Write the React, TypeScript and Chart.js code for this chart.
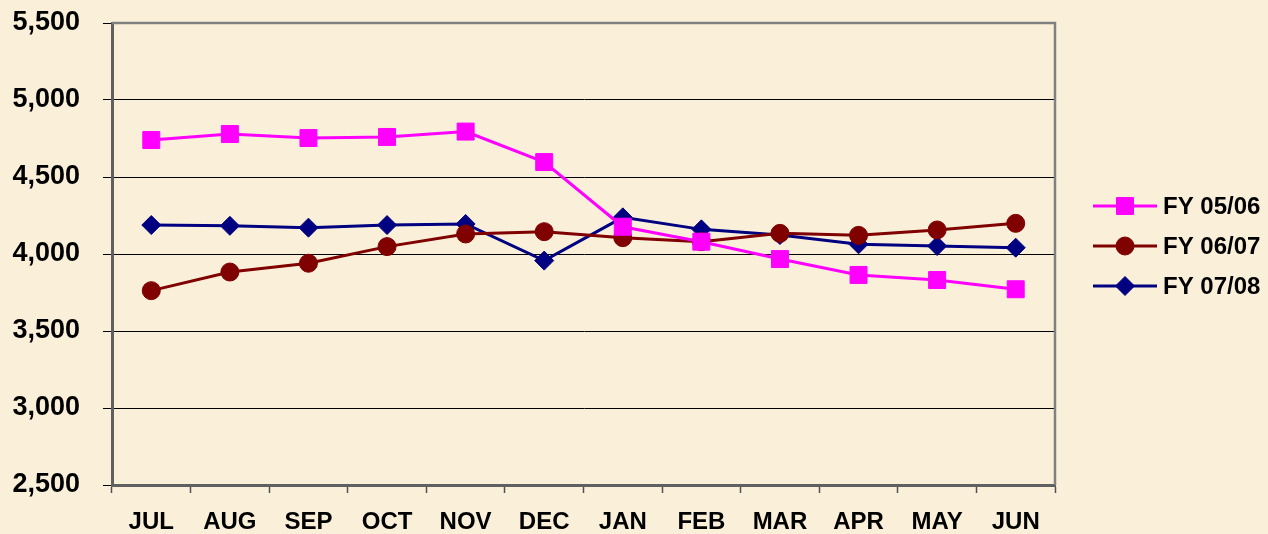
import React, { useEffect, useRef } from "react";
import { Chart, registerables } from "chart.js";
import { drawPoint } from "chart.js/helpers";

Chart.register(...registerables);

const months = ["JUL", "AUG", "SEP", "OCT", "NOV", "DEC", "JAN", "FEB", "MAR", "APR", "MAY", "JUN"];
const fy0506 = [4740, 4779, 4753, 4760, 4795, 4597, 4177, 4080, 3967, 3864, 3831, 3771];
const fy0607 = [3762, 3883, 3940, 4048, 4130, 4145, 4106, 4080, 4134, 4121, 4156, 4199];
const fy0708 = [4188, 4183, 4171, 4188, 4195, 3957, 4238, 4160, 4123, 4063, 4052, 4041];
const seriesNames = ["FY 05/06", "FY 06/07", "FY 07/08"];
const yMin = 2500;
const yMax = 5500;
const yStep = 500;

const FONT = "'Liberation Sans', Arial, sans-serif";
const BG = "#FAF0DA";

const bgPlugin = {
  id: "bgPlugin",
  beforeDraw(chart: any) {
    const { ctx, width, height } = chart;
    ctx.save();
    ctx.fillStyle = BG;
    ctx.fillRect(0, 0, width, height);
    ctx.restore();
  },
  beforeDatasetsDraw(chart: any) {
    const { ctx, chartArea } = chart;
    ctx.save();
    ctx.strokeStyle = "#808080";
    ctx.lineWidth = 2.5;
    ctx.beginPath();
    ctx.moveTo(chartArea.left, chartArea.top);
    ctx.lineTo(chartArea.right, chartArea.top);
    ctx.lineTo(chartArea.right, chartArea.bottom);
    ctx.stroke();
    ctx.restore();
  },
};

const legendPlugin = {
  id: "customLegend",
  afterDraw(chart: any) {
    const { ctx } = chart;
    const x0 = 1093;
    const x1 = 1157;
    const xm = 1125;
    const y0 = 206;
    const gap = 40;
    ctx.save();
    chart.data.datasets.forEach((ds: any, i: number) => {
      const y = y0 + i * gap;
      ctx.strokeStyle = ds.borderColor;
      ctx.lineWidth = 3;
      ctx.beginPath();
      ctx.moveTo(x0, y);
      ctx.lineTo(x1, y);
      ctx.stroke();
      ctx.fillStyle = ds.pointBackgroundColor;
      ctx.strokeStyle = ds.pointBorderColor;
      ctx.lineWidth = 1;
      drawPoint(ctx, { pointStyle: ds.pointStyle, rotation: 0, radius: ds.pointRadius, borderWidth: 1 }, xm, y);
      ctx.fillStyle = "#000";
      ctx.font = `bold 24px ${FONT}`;
      ctx.textAlign = "left";
      ctx.textBaseline = "middle";
      ctx.fillText(ds.label, 1163, y + 1);
    });
    ctx.restore();
  },
};

export default function App() {
  const ref = useRef<HTMLCanvasElement | null>(null);

  useEffect(() => {
    if (!ref.current) return;
    const mk = (label: string, data: number[], color: string, style: string, r: number) => ({
      label,
      data,
      borderColor: color,
      backgroundColor: color,
      pointBackgroundColor: color,
      pointBorderColor: color,
      pointStyle: style,
      pointRadius: r,
      pointBorderWidth: 1,
      borderWidth: 3,
      tension: 0,
    });
    const chart = new Chart(ref.current, {
      type: "line",
      data: {
        labels: months,
        datasets: [
          mk(seriesNames[0], fy0506, "#FF00FF", "rect", 12),
          mk(seriesNames[1], fy0607, "#800000", "circle", 9),
          mk(seriesNames[2], fy0708, "#000080", "rectRot", 9.5),
        ],
      },
      options: {
        animation: false,
        responsive: true,
        maintainAspectRatio: false,
        layout: { padding: { top: 23, right: 213, left: 0, bottom: 0 } },
        plugins: { legend: { display: false }, tooltip: { enabled: false } },
        scales: {
          x: {
            offset: true,
            grid: {
              offset: true,
              drawOnChartArea: false,
              drawTicks: true,
              tickLength: 8,
              tickColor: "#505050",
              tickWidth: 1.5,
            },
            border: { color: "#606060", width: 3 },
            ticks: {
              font: { family: FONT, size: 24, weight: "bold" },
              color: "#000",
              padding: 15,
              maxRotation: 0,
              autoSkip: false,
            },
            afterFit: (scale: any) => {
              scale.height = 49;
              scale.paddingLeft = 0;
              scale.paddingRight = 0;
            },
          },
          y: {
            min: yMin,
            max: yMax,
            grid: {
              color: "#000",
              lineWidth: 1,
              tickLength: 9,
              tickColor: "#000",
            },
            border: { color: "#606060", width: 3 },
            ticks: {
              stepSize: yStep,
              font: { family: FONT, size: 27, weight: "bold" },
              color: "#000",
              padding: 23,
              callback: (v: any) => Number(v).toLocaleString("en-US"),
            },
            afterFit: (scale: any) => {
              scale.width = 112;
              scale.paddingTop = 0;
              scale.paddingBottom = 0;
            },
          },
        },
      },
      plugins: [bgPlugin, legendPlugin],
    } as any);
    return () => chart.destroy();
  }, []);

  return (
    <div style={{ position: "fixed", left: 0, top: 0, width: 1268, height: 534, background: BG }}>
      <canvas ref={ref} />
    </div>
  );
}
